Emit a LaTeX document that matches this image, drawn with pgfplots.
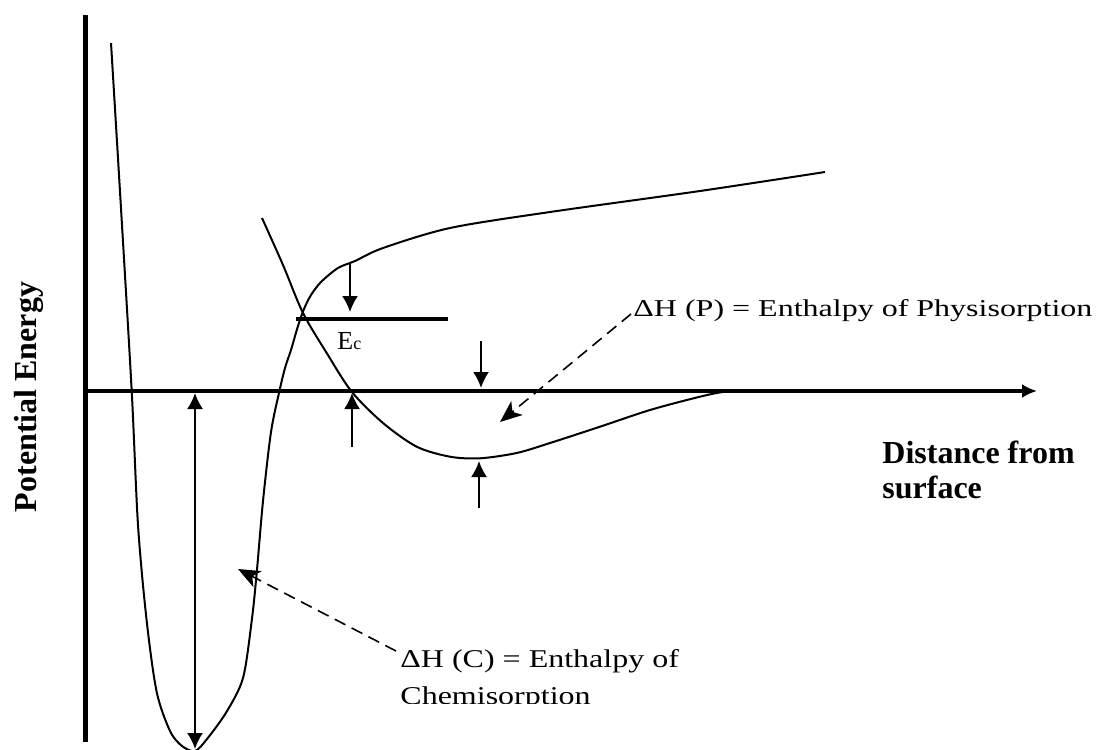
\documentclass[border=0pt]{standalone}
\usepackage{graphicx}
\usepackage{fontspec}
\setmainfont{Liberation Serif}
\usepackage{pgfplots}
\pgfplotsset{compat=1.18}
\usetikzlibrary{arrows.meta}

% Potential-energy diagram for physisorption and chemisorption.
% Coordinates are given on a 1096 x 749 drawing grid (y grows downwards).
\begin{document}
\begin{tikzpicture}
\begin{axis}[
  name=ax,
  scale only axis,
  width=548pt, height=374.5pt,
  xmin=0, xmax=1096, ymin=0, ymax=749,
  y dir=reverse,
  hide axis,
  clip=false,
]
% energy axis
\addplot[black, line width=2.5pt] coordinates {(85.5,15) (85.5,742)};
% distance axis (zero energy)
\addplot[black, line width=2.25pt] coordinates {(83,391) (866,391)};
\addplot[black, line width=1.65pt, -{Latex[length=7.5pt,width=7pt]}] coordinates {(860,391) (1037,391)};

% chemisorption potential
\addplot[black, line width=1pt, smooth, tension=0.5] coordinates {
  (111,43) (120.5,200) (131.7,391) (138,525) (146.7,621) (156.7,692)
  (170,731) (182,746) (195,751) (207,739) (226.7,711.6) (243,678)
  (251.7,621) (256.7,573) (263,501) (271,432) (279.3,391.6) (285,368)
  (291,350) (298,326) (304,309) (311,295) (321,282) (338,268)
  (355,261) (383,248) (450,228) (550,212) (700,191) (825,172)
};
% physisorption potential
\addplot[black, line width=1pt, smooth, tension=0.5] coordinates {
  (262,218) (283,265) (303,313) (326.7,353) (351.7,391.7) (383,423)
  (416.7,446.7) (450,456.7) (480,458.3) (516.7,453) (550,443)
  (600,426.7) (650,410) (700,396.7) (727,391.5) (760,391)
};

% activation energy level
\addplot[black, line width=1.65pt] coordinates {(296,319) (448,319)};

% Ec markers
\addplot[black, line width=1pt, -{Latex[length=8pt,width=8pt]}] coordinates {(350,263) (350,312)};
\addplot[black, line width=1pt, -{Latex[length=8pt,width=8pt]}] coordinates {(352,447) (352,393)};
% physisorption depth markers
\addplot[black, line width=1pt, -{Latex[length=8pt,width=8pt]}] coordinates {(481,341) (481,388)};
\addplot[black, line width=1pt, -{Latex[length=8pt,width=8pt]}] coordinates {(479,508) (479,461)};
% chemisorption depth
\addplot[black, line width=1pt, {Latex[length=8pt,width=8pt]}-{Latex[length=8pt,width=8pt]}] coordinates {(195,393) (195,749)};

% pointers to the labels
\addplot[black, line width=0.8pt, dash pattern=on 6pt off 3.5pt, -{Stealth[length=11pt,width=9pt,inset=3pt]}] coordinates {(631,314) (500,422)};
\addplot[black, line width=0.8pt, dash pattern=on 6pt off 3.5pt, -{Stealth[length=11pt,width=9pt,inset=3pt]}] coordinates {(396,651) (238,569)};

% labels
\node[rotate=90, anchor=base, font=\fontsize{16}{19}\selectfont\bfseries] at (axis cs:36,397) {Potential Energy};
\node[anchor=base west, inner sep=0pt, font=\fontsize{16}{19}\selectfont\bfseries] at (axis cs:882,463) {Distance from};
\node[anchor=base west, inner sep=0pt, font=\fontsize{16}{19}\selectfont\bfseries] at (axis cs:882,498) {surface};
\node[anchor=base west, inner sep=0pt, font=\fontsize{13}{15}\selectfont] at (axis cs:337,349) {E{\fontsize{9}{10}\selectfont c}};
\node[anchor=base west, inner sep=0pt] at (axis cs:633,316)
  {\scalebox{1}[0.755]{\fontsize{16}{19}\selectfont ΔH (P) = Enthalpy of Physisorption}};
\begin{scope}
  \clip (axis cs:380,600) rectangle (axis cs:800,703);
  \node[anchor=base west, inner sep=0pt] at (axis cs:400,667)
    {\scalebox{1}[0.8]{\fontsize{16}{19}\selectfont ΔH (C) = Enthalpy of}};
  \node[anchor=base west, inner sep=0pt] at (axis cs:400,704)
    {\scalebox{1}[0.8]{\fontsize{16}{19}\selectfont Chemisorption}};
\end{scope}
\end{axis}
\pgfresetboundingbox
\useasboundingbox (ax.south west) rectangle (ax.north east);
\end{tikzpicture}
\end{document}
